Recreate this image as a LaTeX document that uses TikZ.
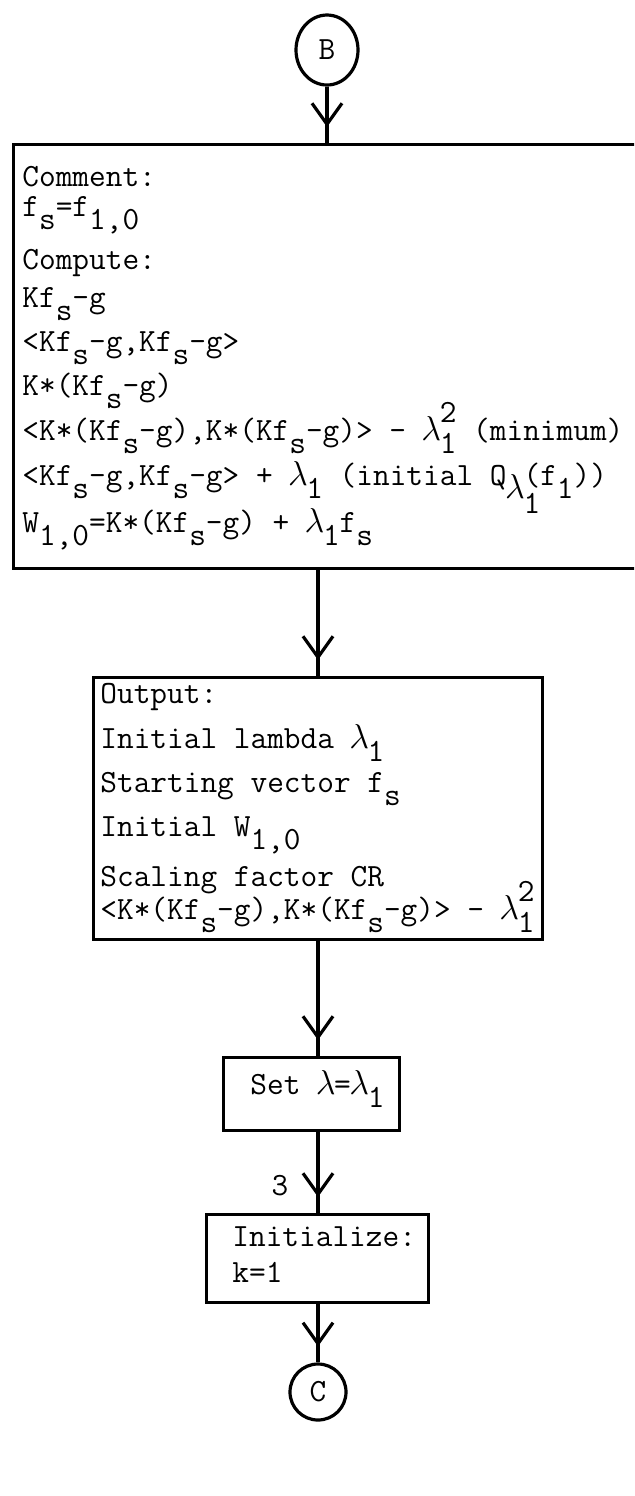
\documentclass[tikz,border=0pt]{standalone}
\usepackage{fontspec}
\usetikzlibrary{arrows.meta,decorations.markings,shapes.geometric}
\newcommand\tw{\ttfamily\fontsize{16.2}{19}\selectfont\addfontfeatures{FakeBold=1.6}}
\newcommand\sbx[1]{\raisebox{-6.5pt}{#1}}
\newcommand\lam{\makebox[8.5pt]{$\lambda$}}
\newcommand\lamsq{\lam\rlap{\raisebox{9pt}{2}}\sbx{1}}
\tikzset{
  box/.style={draw, line width=1.6pt, rectangle, inner sep=0pt},
  circ/.style={draw, line width=1.6pt, circle, inner sep=0pt, font=\tw},
  txt/.style={anchor=base west, inner sep=0pt, font=\tw},
  lbl/.style={inner sep=0pt, font=\tw},
  flow/.style={line width=1.6pt, postaction={decorate},
    decoration={markings, mark=at position -8pt with {\arrow{Straight Barb[length=10.5pt,width=15pt,line width=1.6pt]}}}}
}
\begin{document}
\begin{tikzpicture}[x=0.5pt,y=-0.5pt]
\clip (0,0) rectangle (634,1496);
\coordinate (ax) at (318,0);
% nodes
\node[circ, ellipse, minimum width=31pt, minimum height=35pt] (B) at (327,50) {B};
\node[box, anchor=north west, minimum width=350pt, minimum height=212pt] (box1) at (12,143) {};
\node[box, anchor=north west, minimum width=224.5pt, minimum height=131pt] (out) at (92,676) {};
\node[box, anchor=north west, minimum width=88pt, minimum height=36.5pt] (set) at (222,1056) {};
\node[box, anchor=north west, minimum width=111pt, minimum height=44pt] (init) at (205,1213) {};
\node[circ, minimum size=28pt] (C) at (318,1392) {C};
% texts of box1
\node[txt] (t1) at (22,186) {Comment:};
\node[txt] (t2) at (22,216) {f\sbx{s}=f\sbx{1,0}};
\node[txt] (t3) at (22,269) {Compute:};
\node[txt] (t4) at (22,307) {Kf\sbx{s}-g};
\node[txt] (t5) at (22,351) {<Kf\sbx{s}-g,Kf\sbx{s}-g>};
\node[txt] (t6) at (22,395) {K*(Kf\sbx{s}-g)};
\node[txt] (t7) at (22,440) {<K*(Kf\sbx{s}-g),K*(Kf\sbx{s}-g)> - \lamsq{} (minimum)};
\node[txt] (t8) at (22,485) {<Kf\sbx{s}-g,Kf\sbx{s}-g> + \lam\sbx{1} (initial Q\sbx{\lam}\rlap{\raisebox{-14pt}{1}}(f\sbx{1}))};
\node[txt] (t9) at (22,532) {W\sbx{1,0}=K*(Kf\sbx{s}-g) + \lam\sbx{1}f\sbx{s}};
% texts of output box
\node[txt] (o1) at (100,703) {Output:};
\node[txt] (o2) at (100,748) {Initial lambda \lam\sbx{1}};
\node[txt] (o3) at (100,792) {Starting vector f\sbx{s}};
\node[txt] (o4) at (100,836) {Initial W\sbx{1,0}};
\node[txt] (o5) at (100,886) {Scaling factor CR};
\node[txt] (o6) at (100,919) {<K*(Kf\sbx{s}-g),K*(Kf\sbx{s}-g)> - \lamsq};
% set box
\node[txt] (s1) at (250,1094) {Set \lam=\lam\sbx{1}};
% init box
\node[txt] (i1) at (232,1246) {Initialize:};
\node[txt] (i2) at (232,1282) {k=1};
% connectors
\draw[flow] (B.south) -- (B.south |- box1.north);
\draw[flow] (box1.south -| ax) -- (out.north -| ax);
\draw[flow] (out.south -| ax) -- (set.north -| ax);
\draw[flow] (set.south -| ax) -- node[pos=0.66, left=14pt, lbl] (l3) {3} (init.north -| ax);
\draw[flow] (init.south -| ax) -- (C.north);
\end{tikzpicture}
\end{document}
